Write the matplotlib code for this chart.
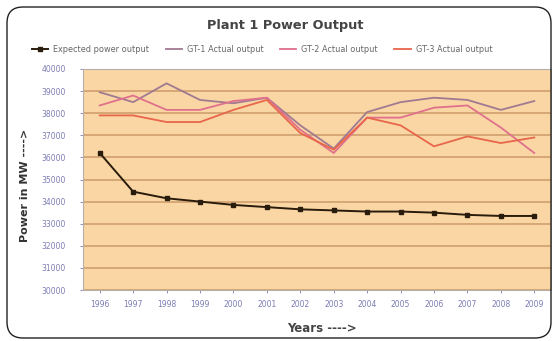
import matplotlib
matplotlib.use("Agg")
import matplotlib.pyplot as plt
from matplotlib.patches import FancyBboxPatch

years = ["1996", "1997", "1998", "1999", "2000", "2001", "2002",
         "2003", "2004", "2005", "2006", "2007", "2008", "2009"]
expected = [36200, 34450, 34150, 34000, 33850, 33750, 33650,
            33600, 33550, 33550, 33500, 33400, 33350, 33350]
gt1 = [38950, 38500, 39350, 38600, 38450, 38700, 37450,
       36400, 38050, 38500, 38700, 38600, 38150, 38550]
gt2 = [38350, 38800, 38150, 38150, 38550, 38700, 37250,
       36200, 37800, 37800, 38250, 38350, 37350, 36200]
gt3 = [37900, 37900, 37600, 37600, 38150, 38600, 37100,
       36350, 37800, 37450, 36500, 36950, 36650, 36900]
yticks = [30000, 31000, 32000, 33000, 34000, 35000,
          36000, 37000, 38000, 39000, 40000]
labels = ["Expected power output", "GT-1 Actual output",
          "GT-2 Actual output", "GT-3 Actual output"]

W, H = 552, 341
fig = plt.figure(figsize=(W / 100, H / 100), dpi=100)
fig.patch.set_facecolor("white")

# rounded frame around the whole chart
frame = FancyBboxPatch((0.07, 0.03), 5.44, 3.31,
                       boxstyle="round,pad=0,rounding_size=0.16",
                       transform=fig.dpi_scale_trans, fill=False,
                       edgecolor="#222222", linewidth=1.0)
fig.patches.append(frame)

left, right, top, bottom = 83, 551, 69, 290
ax = fig.add_axes([left / W, 1 - bottom / H, (right - left) / W, (bottom - top) / H])
ax.set_facecolor("#FAD6A4")

x = list(range(len(years)))
ax.plot(x, gt1, color="#A07A92", lw=1.3, label=labels[1], zorder=3)
ax.plot(x, gt2, color="#E0708C", lw=1.3, label=labels[2], zorder=3)
ax.plot(x, gt3, color="#E8664A", lw=1.3, label=labels[3], zorder=3)
ax.plot(x, expected, color="#2A1C0C", lw=1.4, marker="s", ms=3,
        label=labels[0], zorder=4)

ax.set_xlim(-0.5, len(years) - 0.5)
ax.set_ylim(yticks[0], yticks[-1])
ax.set_yticks(yticks)
ax.set_yticklabels([str(v) for v in yticks])
ax.set_xticks(x)
ax.set_xticklabels(years)
ax.tick_params(axis="both", labelsize=5.5, colors="#7C7CB4", length=2.5, width=0.6)
ax.tick_params(axis="y", pad=10)
ax.tick_params(axis="x", pad=5)
ax.yaxis.grid(True, color="#D2A472", lw=1.3)
ax.set_axisbelow(True)
for s in ax.spines.values():
    s.set_color("#B8B0A8")
    s.set_linewidth(0.8)

handles, labs = ax.get_legend_handles_labels()
order = [3, 0, 1, 2]
leg = fig.legend([handles[i] for i in order], [labs[i] for i in order],
                 loc="center", bbox_to_anchor=(262 / W, 1 - 49 / H), ncol=4,
                 frameon=False, fontsize=5.9, labelcolor="#666666",
                 handlelength=2.0, columnspacing=2.0, handletextpad=0.6)

fig.text(285 / W, 1 - 25 / H, "Plant 1 Power Output", ha="center", va="center",
         fontsize=9.3, fontweight="bold", color="#444444")
fig.text(25 / W, 1 - 185 / H, "Power in MW ---->", rotation=90, ha="center",
         va="center", fontsize=8, fontweight="bold", color="#333333")
fig.text(322 / W, 1 - 328 / H, "Years ---->", ha="center", va="center",
         fontsize=8.5, fontweight="bold", color="#444444")

fig.savefig("out.png", dpi=100)
